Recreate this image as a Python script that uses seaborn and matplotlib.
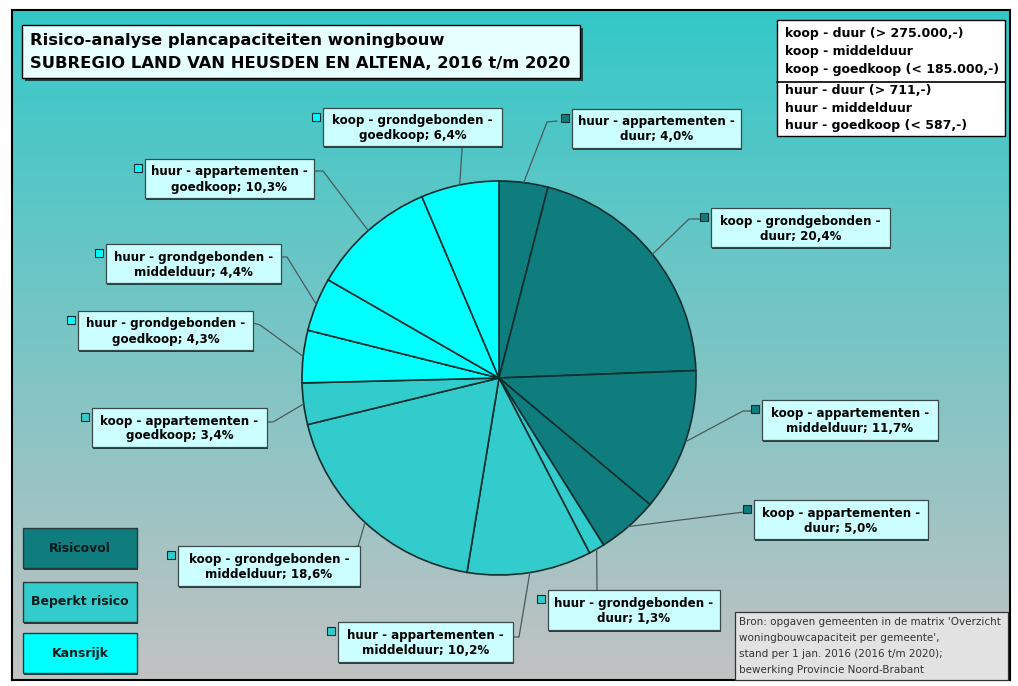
import numpy as np
import matplotlib
matplotlib.use("Agg")
import matplotlib.pyplot as plt
import seaborn as sns
from matplotlib.patches import Rectangle
from matplotlib.colors import to_rgb

sns.set_theme(style="white")
plt.rcParams['font.family'] = ['DejaVu Sans']
plt.rcParams['text.color'] = 'black'

# ---------------- data ----------------
tenure = ["huur", "koop", "koop", "koop", "huur", "huur", "koop", "koop", "huur", "huur", "huur", "koop"]
housing_type = ["appartementen", "grondgebonden", "appartementen", "appartementen", "grondgebonden",
                "appartementen", "grondgebonden", "appartementen", "grondgebonden", "grondgebonden",
                "appartementen", "grondgebonden"]
price_class = ["duur", "duur", "middelduur", "duur", "duur", "middelduur", "middelduur", "goedkoop",
               "goedkoop", "middelduur", "goedkoop", "goedkoop"]
shares = [4.0, 20.4, 11.7, 5.0, 1.3, 10.2, 18.6, 3.4, 4.3, 4.4, 10.3, 6.4]
risk = ["Risicovol"] * 4 + ["Beperkt risico"] * 4 + ["Kansrijk"] * 4
risk_classes = ["Risicovol", "Beperkt risico", "Kansrijk"]
risk_colors = ["#0f7d7d", "#33cccc", "#00ffff"]

legend_koop = ["koop - duur (> 275.000,-)", "koop - middelduur", "koop - goedkoop (< 185.000,-)"]
legend_huur = ["huur - duur (> 711,-)", "huur - middelduur", "huur - goedkoop (< 587,-)"]
title_lines = ["Risico-analyse plancapaciteiten woningbouw",
               "SUBREGIO LAND VAN HEUSDEN EN ALTENA, 2016 t/m 2020"]
source_lines = ["Bron: opgaven gemeenten in de matrix 'Overzicht",
                "woningbouwcapaciteit per gemeente',",
                "stand per 1 jan. 2016 (2016 t/m 2020);",
                "bewerking Provincie Noord-Brabant"]

# ---------------- layout (pixels) ----------------
W, H = 1018, 686
CX, CY, R = 499, 378, 197
# label boxes: left, top, right, bottom
label_boxes = [(572, 109, 741, 148), (711, 208, 890, 247), (762, 400, 938, 440), (754, 500, 928, 539),
               (548, 590, 720, 630), (338, 622, 513, 662), (178, 546, 360, 586), (92, 408, 267, 447),
               (78, 311, 253, 350), (106, 244, 281, 283), (145, 159, 314, 198), (323, 108, 502, 146)]
# leader lines: elbow and anchor points
elbows = [(547, 122), (689, 219), (743, 411), (736, 513), (597, 588), (519, 637), (357, 550),
          (273, 422), (260, 325), (287, 257), (323, 171), (462, 150)]
anchors = [(557, 121), (700, 219), (751, 411), (744, 512), (597, 590), (513, 637), (357, 546),
           (267, 422), (253, 323), (281, 257), (314, 171), (462, 146)]

color_of = dict(zip(risk_classes, risk_colors))
slice_colors = [color_of[r] for r in risk]

fig = plt.figure(figsize=(W / 100, H / 100), dpi=100)
fig.patch.set_facecolor("white")

# background gradient frame
bx0, by0, bx1, by1 = 12, 10, 1010, 680
bg = fig.add_axes([bx0 / W, 1 - by1 / H, (bx1 - bx0) / W, (by1 - by0) / H])
top_c = np.array(to_rgb("#34c8c8"))
bot_c = np.array(to_rgb("#c2c2c2"))
t = np.linspace(0, 1, 300)[:, None]
grad = (top_c[None, :] * (1 - t) + bot_c[None, :] * t)[:, None, :]
bg.imshow(grad, aspect="auto", extent=[0, 1, 0, 1], origin="upper")
bg.set_xticks([]); bg.set_yticks([])
for s in bg.spines.values():
    s.set_color("black"); s.set_linewidth(1.5)

# pie
pax = fig.add_axes([(CX - R) / W, 1 - (CY + R) / H, 2 * R / W, 2 * R / H])
pax.patch.set_alpha(0)
wedges, _ = pax.pie(shares, colors=slice_colors, startangle=90, counterclock=False,
                    wedgeprops=dict(edgecolor="#0b2e2e", linewidth=1.2))
pax.set_xlim(-1, 1); pax.set_ylim(-1, 1)
pax.axis("off")
for w in wedges:
    w.set_clip_on(False)

# overlay in pixel coordinates
ov = fig.add_axes([0, 0, 1, 1])
ov.set_xlim(0, W); ov.set_ylim(H, 0)
ov.axis("off")
ov.patch.set_alpha(0)


def box(x0, y0, x1, y1, fc, ec="#222222", lw=0.9, shadow=None, z=3):
    if shadow:
        ov.add_patch(Rectangle((x0 + shadow, y0 + shadow), x1 - x0, y1 - y0, fc="#1c4040",
                               ec="none", zorder=z - 0.5))
    ov.add_patch(Rectangle((x0, y0), x1 - x0, y1 - y0, fc=fc, ec=ec, lw=lw, zorder=z))


# slice labels
for i, w in enumerate(wedges):
    th = np.deg2rad((w.theta1 + w.theta2) / 2)
    px, py = CX + R * np.cos(th), CY - R * np.sin(th)
    ex, ey = elbows[i]
    ax_, ay_ = anchors[i]
    ov.plot([px, ex, ax_], [py, ey, ay_], color="#4a5a5a", lw=0.9, zorder=2)
    x0, y0, x1, y1 = label_boxes[i]
    box(x0, y0, x1, y1, "#ccffff", ec="#3a4a4a", lw=0.9, shadow=1.5)
    ov.add_patch(Rectangle((x0 - 11, y0 + 5), 8, 8, fc=slice_colors[i], ec="#1a2a2a", lw=0.8, zorder=3))
    txt = f"{tenure[i]} - {housing_type[i]} -\n{price_class[i]}; {shares[i]:.1f}%".replace(".", ",")
    ov.text((x0 + x1) / 2, (y0 + y1) / 2 + 1, txt, ha="center", va="center", fontsize=8.6,
            fontweight="bold", color="black", linespacing=1.2, zorder=4)

# title
box(22, 25, 580, 78, "#e8ffff", ec="black", lw=1.0, shadow=3)
ov.text(30, 41, title_lines[0], fontsize=11.8, fontweight="bold", va="center", ha="left", zorder=4)
ov.text(30, 63, title_lines[1], fontsize=11.8, fontweight="bold", va="center", ha="left", zorder=4)

# top-right legend
box(777, 20, 1005, 136, "white", ec="black", lw=1.0)
ov.plot([777, 1005], [82, 82], color="black", lw=1.2, zorder=4)
for k, s in enumerate(legend_koop):
    ov.text(785, 34 + 18 * k, s, fontsize=9, fontweight="bold", va="center", ha="left", zorder=4)
for k, s in enumerate(legend_huur):
    ov.text(785, 91 + 17 * k, s, fontsize=9, fontweight="bold", va="center", ha="left", zorder=4)

# risk legend boxes
risk_box_tops = [528, 582, 633]
for k, (name, c) in enumerate(zip(risk_classes, risk_colors)):
    y0 = risk_box_tops[k]
    box(23, y0, 137, y0 + 40, c, ec="#2a3a3a", lw=1.0, shadow=1.5)
    ov.text(80, y0 + 20, name, fontsize=9, fontweight="bold", ha="center", va="center",
            color="#0a1a1a", zorder=4)

# source box
box(735, 612, 1008, 680, "#e2e2e2", ec="#333333", lw=0.9)
for k, s in enumerate(source_lines):
    ov.text(739, 622 + 16 * k, s, fontsize=7.5, ha="left", va="center", color="#333333", zorder=4)

fig.savefig("out.png", dpi=100, facecolor=fig.get_facecolor())
